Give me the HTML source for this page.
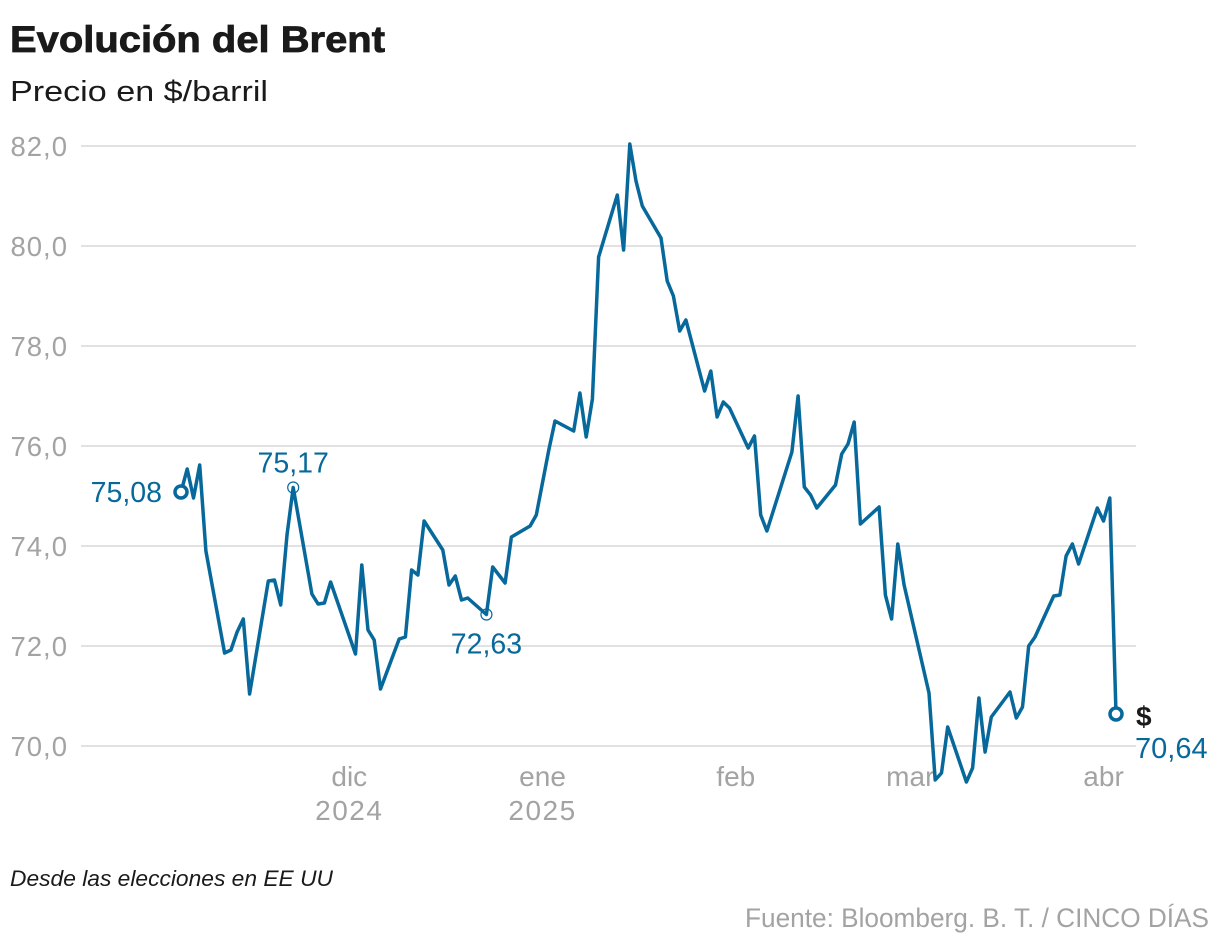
<!DOCTYPE html>
<html><head><meta charset="utf-8"><style>
html,body{margin:0;padding:0;background:#fff;}
svg{display:block;font-family:"Liberation Sans",sans-serif;}
</style></head><body>
<svg id="chart" width="1220" height="948" viewBox="0 0 1220 948">
<text x="10" y="52" font-size="37" font-weight="bold" fill="#1a1a1a" stroke="#1a1a1a" stroke-width="0.8" textLength="375" lengthAdjust="spacingAndGlyphs">Evolución del Brent</text>
<text x="10" y="101" font-size="29" fill="#1a1a1a" textLength="258" lengthAdjust="spacingAndGlyphs">Precio en $/barril</text>
<g id="grid"></g>
<g id="xaxis"></g>
<g id="series"></g>
<text x="10" y="886" font-size="22" font-style="italic" fill="#1a1a1a" textLength="323" lengthAdjust="spacingAndGlyphs">Desde las elecciones en EE UU</text>
<text x="1209" y="927" font-size="26.5" fill="#a3a3a3" text-anchor="end" textLength="464" lengthAdjust="spacingAndGlyphs">Fuente: Bloomberg. B. T. / CINCO DÍAS</text>
</svg>
<script>
// day offsets from 4 nov 2024
const days=[0,1,2,3,4,7,8,9,10,11,14,15,16,17,18,21,22,23,24,28,29,30,31,32,35,36,37,38,39,42,43,44,45,46,49,50,52,53,56,57,59,60,63,64,65,66,67,70,71,72,73,74,77,78,79,80,81,84,85,86,87,88,91,92,93,94,98,99,100,101,102,105,106,107,108,109,112,113,114,115,116,120,121,122,123,126,127,128,129,130,133,134,135,136,137,140,141,142,143,144,147,148,149,150];
const prices=[75.08,75.54,74.96,75.62,73.90,71.86,71.92,72.28,72.54,71.04,73.30,73.32,72.82,74.22,75.17,73.04,72.84,72.86,73.28,71.84,73.62,72.32,72.12,71.14,72.14,72.18,73.52,73.42,74.50,73.92,73.22,73.40,72.92,72.96,72.63,73.58,73.26,74.18,74.40,74.62,75.92,76.50,76.30,77.06,76.18,76.94,79.78,81.02,79.92,82.04,81.30,80.80,80.16,79.30,79.00,78.30,78.52,77.10,77.50,76.58,76.88,76.76,75.96,76.20,74.62,74.30,75.88,77.00,75.18,75.02,74.76,75.22,75.84,76.04,76.48,74.44,74.78,73.02,72.54,74.04,73.22,71.06,69.32,69.46,70.38,69.28,69.56,70.96,69.88,70.58,71.08,70.56,70.78,72.00,72.18,73.00,73.02,73.80,74.04,73.64,74.76,74.50,74.96,70.64];
const yTicks=[70,72,74,76,78,80,82];
const yTickLabels=["70,0","72,0","74,0","76,0","78,0","80,0","82,0"];
const monthDays=[27,58,89,117,148];
const monthLabels=["dic","ene","feb","mar","abr"];
const yearLabels=["2024","2025","","",""];
const annIdx=[0,14,34];
const annLabels=["75,08","75,17","72,63"];

const NS="http://www.w3.org/2000/svg";
const x=d=>181+d*(935/150);
const y=v=>746-(v-70)*50;
function mk(tag,attrs,parent,txt){const e=document.createElementNS(NS,tag);for(const k in attrs)e.setAttribute(k,attrs[k]);if(txt!==undefined)e.textContent=txt;parent.appendChild(e);return e;}
const grid=document.getElementById('grid'),xa=document.getElementById('xaxis'),ser=document.getElementById('series');
yTicks.forEach((t,i)=>{
  const l=mk('line',{x1:81,x2:1136,y1:y(t),y2:y(t),stroke:'#e2e2e2','stroke-width':2},grid);
  
  
  const tx=mk('text',{x:68,y:y(t)+10,'font-size':27.5,fill:'#a3a3a3','text-anchor':'end','letter-spacing':1},grid,yTickLabels[i]);
  
  
});
monthDays.forEach((d,i)=>{
  const tx=mk('text',{x:x(d),y:786,'font-size':28,fill:'#a3a3a3','text-anchor':'middle'},xa,monthLabels[i]);
  
  
  if(yearLabels[i]){
    const yt=mk('text',{x:x(d),y:820,'font-size':28,fill:'#a3a3a3','text-anchor':'middle','letter-spacing':1.5},xa,yearLabels[i]);
    
    
  }
});
const pts=days.map((d,i)=>x(d).toFixed(1)+','+y(prices[i]).toFixed(1)).join(' ');
const pl=mk('polyline',{points:pts,fill:'none',stroke:'#07699b','stroke-width':3.5,'stroke-linejoin':'round'},ser);


const a0=mk('circle',{cx:x(days[annIdx[0]]),cy:y(prices[annIdx[0]]),r:6,fill:'#fff',stroke:'#07699b','stroke-width':3.5},ser);


const t0=mk('text',{x:x(days[annIdx[0]])-19,y:y(prices[annIdx[0]])+10,'font-size':28.5,fill:'#07699b','text-anchor':'end'},ser,annLabels[0]);


const a1=mk('circle',{cx:x(days[annIdx[1]]),cy:y(prices[annIdx[1]]),r:5.5,fill:'none',stroke:'#07699b','stroke-width':1.2},ser);


const t1=mk('text',{x:x(days[annIdx[1]]),y:y(prices[annIdx[1]])-15,'font-size':28.5,fill:'#07699b','text-anchor':'middle'},ser,annLabels[1]);


const a2=mk('circle',{cx:x(days[annIdx[2]]),cy:y(prices[annIdx[2]]),r:5.5,fill:'none',stroke:'#07699b','stroke-width':1.2},ser);


const t2=mk('text',{x:x(days[annIdx[2]]),y:y(prices[annIdx[2]])+39,'font-size':28.5,fill:'#07699b','text-anchor':'middle'},ser,annLabels[2]);


const last=prices.length-1;
const ae=mk('circle',{cx:x(days[last]),cy:y(prices[last]),r:6,fill:'#fff',stroke:'#07699b','stroke-width':3.5},ser);


const te=mk('text',{x:x(days[last])+20,y:y(prices[last])+12,'font-size':28,'font-weight':'bold',fill:'#1a1a1a'},ser,'$');


const tv=mk('text',{x:x(days[last])+19,y:y(prices[last])+44,'font-size':29,fill:'#07699b'},ser,prices[last].toFixed(2).replace('.',','));


</script>
</body></html>
